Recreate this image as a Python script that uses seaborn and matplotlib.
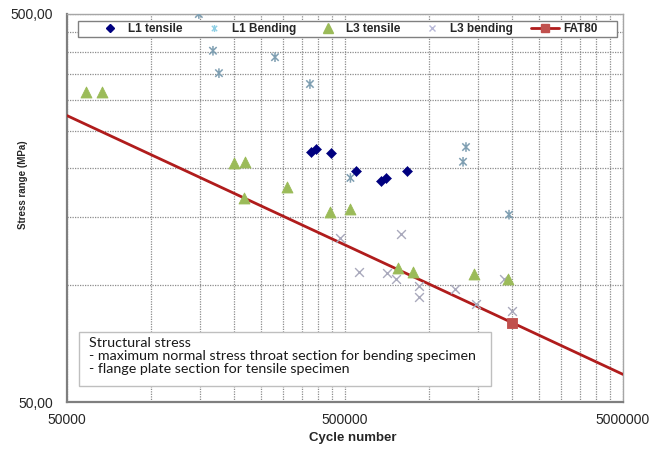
import numpy as np
import pandas as pd
import seaborn as sns
import matplotlib.pyplot as plt
from matplotlib.path import Path
from matplotlib.lines import Line2D
from matplotlib.patches import Rectangle
from matplotlib.ticker import FixedLocator, NullFormatter, FixedFormatter

# ---- test results (cycles to failure, structural stress range in MPa) ----
l1_tensile_n = [377000, 393000, 445000, 548000, 674000, 702000, 836000]
l1_tensile_s = [220, 224, 219, 197, 186, 189, 197]

l1_bending_n = [149000, 167500, 176000, 280000, 374000, 523000, 1329000, 1362000, 1945000]
l1_bending_s = [500, 402, 352, 387, 330, 189, 208, 227, 152]

l3_tensile_n = [58500, 66800, 199000, 218000, 216600, 309000, 441500, 523000,
                776000, 878000, 1456000, 1929000]
l3_tensile_s = [314, 314, 206, 208, 168, 179, 154, 157, 111, 108, 107, 104]

l3_bending_n = [480000, 798000, 561000, 708000, 763000, 923000, 923000,
                1244000, 1480000, 1866000, 1994000]
l3_bending_s = [132, 135.5, 108, 107.5, 104, 99.5, 93, 98, 89.5, 104, 86]

# FAT80 design curve (m = 3), reference point at 2 million cycles
fat_n = [50000, 2000000, 5000000]
fat_s = [273.6, 80.0, 58.9]
fat_ref_n = [2000000]
fat_ref_s = [80.0]

x_ticks = [50000, 500000, 5000000]
x_tick_labels = ["50000", "500000", "5000000"]
y_ticks = [50, 500]
y_tick_labels = ["50,00", "500,00"]

note_lines = [
    "Structural stress",
    "- maximum normal stress throat section for bending specimen",
    "- flange plate section for tensile specimen",
]

sns.set_theme(style="white")
plt.rcParams['font.family'] = ['Liberation Sans', 'DejaVu Sans']

c_l1t = "#00007F"
c_l1b = "#7F9FB2"
c_l3t = "#9BBB59"
c_l3b = "#A9A9BC"
c_fat = "#B01C1C"
c_fat_mk = "#C0504D"
grid_c = "#8C8C8C"

# asterisk marker: an "x" crossed by a vertical stroke
star = Path([(-1, -1), (1, 1), (-1, 1), (1, -1), (0, -1.3), (0, 1.3)],
            [Path.MOVETO, Path.LINETO, Path.MOVETO, Path.LINETO,
             Path.MOVETO, Path.LINETO])

fig = plt.figure(figsize=(6.61, 4.49), dpi=100)
ax = fig.add_axes([67 / 661, 1 - 402 / 449, 556 / 661, 388 / 449])
ax.set_xscale("log")
ax.set_yscale("log")


def ax_x(px):
    return (px - 67) / 556


def ax_y(py):
    return (402 - py) / 388


sns.lineplot(x=fat_n, y=fat_s, color=c_fat, linewidth=2, ax=ax, zorder=3)
sns.scatterplot(x=fat_ref_n, y=fat_ref_s, marker="s", s=60, color=c_fat_mk,
                edgecolor=c_fat_mk, ax=ax, zorder=4)

sns.scatterplot(x=l3_bending_n, y=l3_bending_s, marker="x", s=40, color=c_l3b,
                linewidth=1.0, ax=ax, zorder=4)
sns.scatterplot(x=l1_bending_n, y=l1_bending_s, marker=star, s=48,
                facecolor="none", edgecolor=c_l1b, linewidth=1.1, ax=ax, zorder=4)
sns.scatterplot(x=l3_tensile_n, y=l3_tensile_s, marker="^", s=62, color=c_l3t,
                edgecolor=c_l3t, ax=ax, zorder=5)
sns.scatterplot(x=l1_tensile_n, y=l1_tensile_s, marker="D", s=26, color=c_l1t,
                edgecolor=c_l1t, ax=ax, zorder=5)

ax.set_xlim(50000, 5000000)
ax.set_ylim(50, 500)

# major / minor ticks as multiples of the axis minimum
x_minor = [50000 * k for k in range(2, 10)] + [500000 * k for k in range(2, 10)]
y_minor = [50 * k for k in range(2, 10)]
ax.xaxis.set_major_locator(FixedLocator(x_ticks))
ax.xaxis.set_major_formatter(FixedFormatter(x_tick_labels))
ax.xaxis.set_minor_locator(FixedLocator(x_minor))
ax.xaxis.set_minor_formatter(NullFormatter())
ax.yaxis.set_major_locator(FixedLocator(y_ticks))
ax.yaxis.set_major_formatter(FixedFormatter(y_tick_labels))
ax.yaxis.set_minor_locator(FixedLocator(y_minor))
ax.yaxis.set_minor_formatter(NullFormatter())

ax.tick_params(which="both", direction="out", color="#808080", width=1,
               labelsize=10, labelcolor="#262626")
ax.tick_params(which="major", length=4, pad=4)
ax.tick_params(axis="y", which="major", pad=6)
ax.tick_params(which="minor", length=4)
ax.tick_params(axis="x", which="minor", length=0)

ax.grid(True, which="both", color=grid_c, linestyle=(0, (1, 1)), linewidth=0.9)
ax.set_axisbelow(True)

for side in ["left", "bottom"]:
    ax.spines[side].set_color("#7F7F7F")
    ax.spines[side].set_linewidth(1.6)
for side in ["right", "top"]:
    ax.spines[side].set_color("#A6A6A6")
    ax.spines[side].set_linewidth(1.0)

ax.set_xlabel("Cycle number", fontsize=9.5, fontweight="bold", color="#262626")
ax.set_ylabel("Stress range (MPa)", fontsize=7, fontweight="bold", color="#262626")
ax.xaxis.set_label_coords(ax_x(353), ax_y(432))
ax.yaxis.set_label_coords(ax_x(28), ax_y(185))

# legend: frame drawn as a patch, entries laid out in one row
legend_frame = Rectangle((ax_x(78), ax_y(37)), (617 - 78) / 556, 16 / 388,
                         transform=ax.transAxes, facecolor="white",
                         edgecolor="#808080", linewidth=1.0, zorder=6)
ax.add_patch(legend_frame)

handles = [
    Line2D([], [], marker="D", linestyle="none", color=c_l1t, markersize=4.5),
    Line2D([], [], marker=star, linestyle="none", markerfacecolor="none",
           markeredgecolor="#8FD0E6", markeredgewidth=1.0, markersize=5),
    Line2D([], [], marker="^", linestyle="none", color=c_l3t, markersize=7),
    Line2D([], [], marker="x", linestyle="none", color="#B8B8D8",
           markersize=5, markeredgewidth=1.0),
    Line2D([], [], marker="s", color=c_fat, linewidth=2,
           markerfacecolor=c_fat_mk, markeredgecolor=c_fat_mk, markersize=6),
]
labels = ["L1 tensile", "L1 Bending", "L3 tensile", "L3 bending", "FAT80"]
leg = ax.legend(handles, labels, loc="center left", ncol=5,
                bbox_to_anchor=(ax_x(96), ax_y(29)),
                frameon=False, fontsize=8.5, handlelength=2.37,
                handletextpad=0.34, borderpad=0, borderaxespad=0,
                columnspacing=1.5)
leg.set_zorder(8)
for t in leg.get_texts():
    t.set_fontweight("bold")
    t.set_color("#262626")

# explanatory note box
box = Rectangle((ax_x(79), ax_y(386)), (491 - 79) / 556, 54 / 388,
                transform=ax.transAxes, facecolor="white", edgecolor="#BFBFBF",
                linewidth=1.0, zorder=6)
ax.add_patch(box)
for i, line in enumerate(note_lines):
    ax.text(ax_x(89), ax_y(343 + 13 * i), line,
            transform=ax.transAxes, fontsize=10.3, family=["Lato", "DejaVu Sans"],
            color="#1A1A1A", va="center", ha="left", zorder=7)

fig.savefig("out.png", dpi=100)
